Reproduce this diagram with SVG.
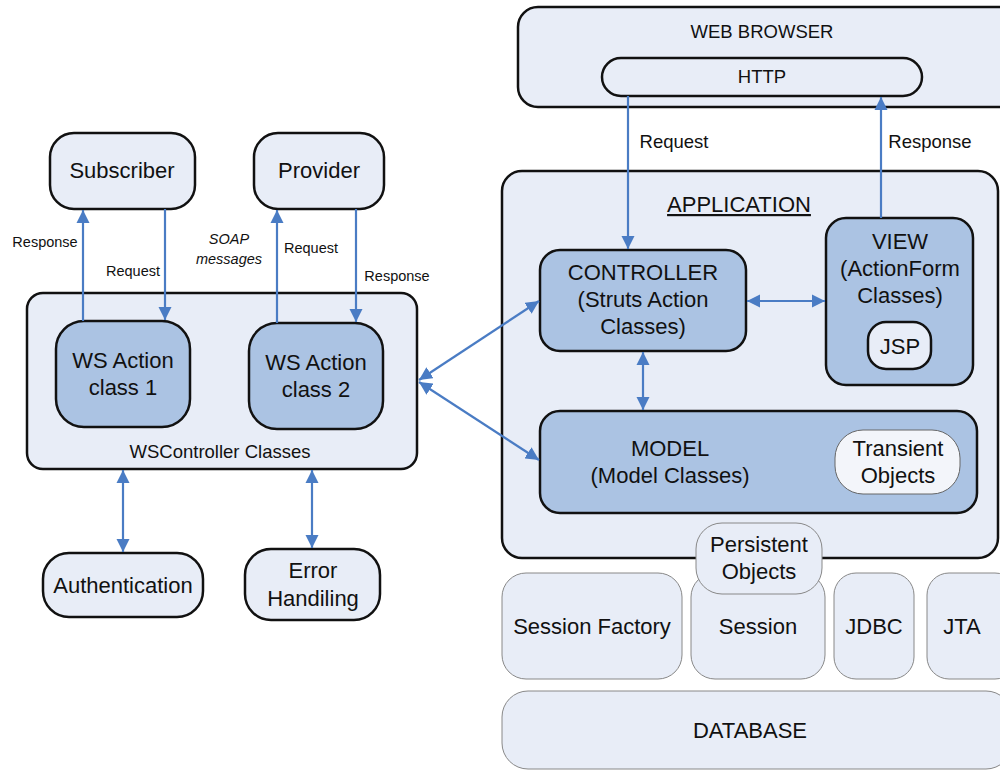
<svg xmlns="http://www.w3.org/2000/svg" width="1000" height="770" viewBox="0 0 1000 770">
<style>
.lt{fill:#e8edf7;stroke:#111;stroke-width:2.5}
.dk{fill:#abc3e3;stroke:#111;stroke-width:2.5}
.th{fill:#e8edf7;stroke:#888;stroke-width:1}
.wh{fill:#f3f5fa;stroke:#666;stroke-width:1}
text{font-family:"Liberation Sans",Arial,sans-serif;fill:#111;text-anchor:middle}
.t20{font-size:22px}
.t16{font-size:18.5px}
.t13{font-size:14.5px}
.c{stroke:#4a7cc4;stroke-width:2.2;fill:none}
</style>
<defs>
<marker id="ah" viewBox="0 0 10 10" refX="10" refY="5" markerWidth="6" markerHeight="6" orient="auto-start-reverse" markerUnits="strokeWidth">
<path d="M0,0 L10,5 L0,10 z" fill="#4a7cc4"/>
</marker>
</defs>
<g id="web-browser">
<rect class="lt" x="518" y="7" width="500" height="100" rx="20"/>
<text class="t16" x="762" y="38">WEB BROWSER</text>
</g>
<g id="http">
<rect class="lt" x="602" y="58" width="320" height="38" rx="19"/>
<text class="t16" x="762" y="83">HTTP</text>
</g>
<g id="application">
<rect class="lt" x="502" y="171" width="496" height="387" rx="20"/>
<text class="t20" x="739" y="212" text-decoration="underline">APPLICATION</text>
</g>
<g id="controller">
<rect class="dk" x="540" y="250" width="206" height="101" rx="20"/>
<text class="t20" x="643" y="280">CONTROLLER</text>
<text class="t20" x="643" y="307">(Struts Action</text>
<text class="t20" x="643" y="334">Classes)</text>
</g>
<g id="view">
<rect class="dk" x="826" y="218" width="147" height="167" rx="20"/>
<text class="t20" x="900" y="249">VIEW</text>
<text class="t20" x="900" y="276">(ActionForm</text>
<text class="t20" x="900" y="303">Classes)</text>
</g>
<g id="jsp">
<rect class="lt" x="868" y="322" width="63" height="47" rx="18"/>
<text class="t20" x="900" y="354">JSP</text>
</g>
<g id="model">
<rect class="dk" x="540" y="411" width="437" height="102" rx="20"/>
<text class="t20" x="670" y="456">MODEL</text>
<text class="t20" x="670" y="483">(Model Classes)</text>
</g>
<g id="transient-objects">
<rect class="wh" x="835" y="430" width="125" height="64" rx="28"/>
<text class="t20" x="898" y="456">Transient</text>
<text class="t20" x="898" y="483">Objects</text>
</g>
<g id="session-factory">
<rect class="th" x="502" y="573" width="180" height="106" rx="24"/>
<text class="t20" x="592" y="634">Session Factory</text>
</g>
<g id="session">
<rect class="th" x="691" y="573" width="134" height="106" rx="24"/>
<text class="t20" x="758" y="634">Session</text>
</g>
<g id="persistent-objects">
<rect class="th" x="696" y="523" width="126" height="71" rx="26"/>
<text class="t20" x="759" y="552">Persistent</text>
<text class="t20" x="759" y="579">Objects</text>
</g>
<g id="jdbc">
<rect class="th" x="834" y="573" width="80" height="106" rx="22"/>
<text class="t20" x="874" y="634">JDBC</text>
</g>
<g id="jta">
<rect class="th" x="927" y="573" width="90" height="106" rx="22"/>
<text class="t20" x="962" y="634">JTA</text>
</g>
<g id="database">
<rect class="th" x="502" y="691" width="510" height="78" rx="26"/>
<text class="t20" x="750" y="738">DATABASE</text>
</g>
<g id="subscriber">
<rect class="lt" x="50" y="133" width="145" height="76" rx="24"/>
<text class="t20" x="122" y="178">Subscriber</text>
</g>
<g id="provider">
<rect class="lt" x="254" y="133" width="130" height="76" rx="24"/>
<text class="t20" x="319" y="178">Provider</text>
</g>
<g id="wscontroller">
<rect class="lt" x="27" y="293" width="390" height="176" rx="16"/>
<text class="t16" x="220" y="458">WSController Classes</text>
</g>
<g id="ws-action-1">
<rect class="dk" x="56" y="321" width="134" height="106" rx="28"/>
<text class="t20" x="123" y="368">WS Action</text>
<text class="t20" x="123" y="395">class 1</text>
</g>
<g id="ws-action-2">
<rect class="dk" x="249" y="323" width="134" height="106" rx="28"/>
<text class="t20" x="316" y="370">WS Action</text>
<text class="t20" x="316" y="397">class 2</text>
</g>
<g id="authentication">
<rect class="lt" x="43" y="553" width="160" height="64" rx="26"/>
<text class="t20" x="123" y="593">Authentication</text>
</g>
<g id="error-handling">
<rect class="lt" x="245" y="549" width="135" height="71" rx="26"/>
<text class="t20" x="313" y="578">Error</text>
<text class="t20" x="313" y="606">Handiling</text>
</g>
<g id="connectors">
<line class="c" x1="83" y1="321" x2="83" y2="210" marker-end="url(#ah)"/>
<line class="c" x1="165" y1="209" x2="165" y2="320" marker-end="url(#ah)"/>
<line class="c" x1="277" y1="323" x2="277" y2="210" marker-end="url(#ah)"/>
<line class="c" x1="356" y1="209" x2="356" y2="322" marker-end="url(#ah)"/>
<line class="c" x1="123" y1="470" x2="123" y2="552" marker-start="url(#ah)" marker-end="url(#ah)"/>
<line class="c" x1="312" y1="470" x2="312" y2="548" marker-start="url(#ah)" marker-end="url(#ah)"/>
<line class="c" x1="419" y1="380" x2="539" y2="301" marker-start="url(#ah)" marker-end="url(#ah)"/>
<line class="c" x1="419" y1="382" x2="539" y2="460" marker-start="url(#ah)" marker-end="url(#ah)"/>
<line class="c" x1="747" y1="301" x2="825" y2="301" marker-start="url(#ah)" marker-end="url(#ah)"/>
<line class="c" x1="643" y1="352" x2="643" y2="410" marker-start="url(#ah)" marker-end="url(#ah)"/>
<line class="c" x1="628" y1="96" x2="628" y2="249" marker-end="url(#ah)"/>
<line class="c" x1="881" y1="218" x2="881" y2="97" marker-end="url(#ah)"/>
<text class="t13" x="45" y="247">Response</text>
<text class="t13" x="133" y="276">Request</text>
<text class="t13" x="229" y="244" font-style="italic">SOAP</text>
<text class="t13" x="229" y="264" font-style="italic">messages</text>
<text class="t13" x="311" y="253">Request</text>
<text class="t13" x="397" y="281">Response</text>
<text class="t16" x="674" y="148">Request</text>
<text class="t16" x="930" y="148">Response</text>
</g>
</svg>
